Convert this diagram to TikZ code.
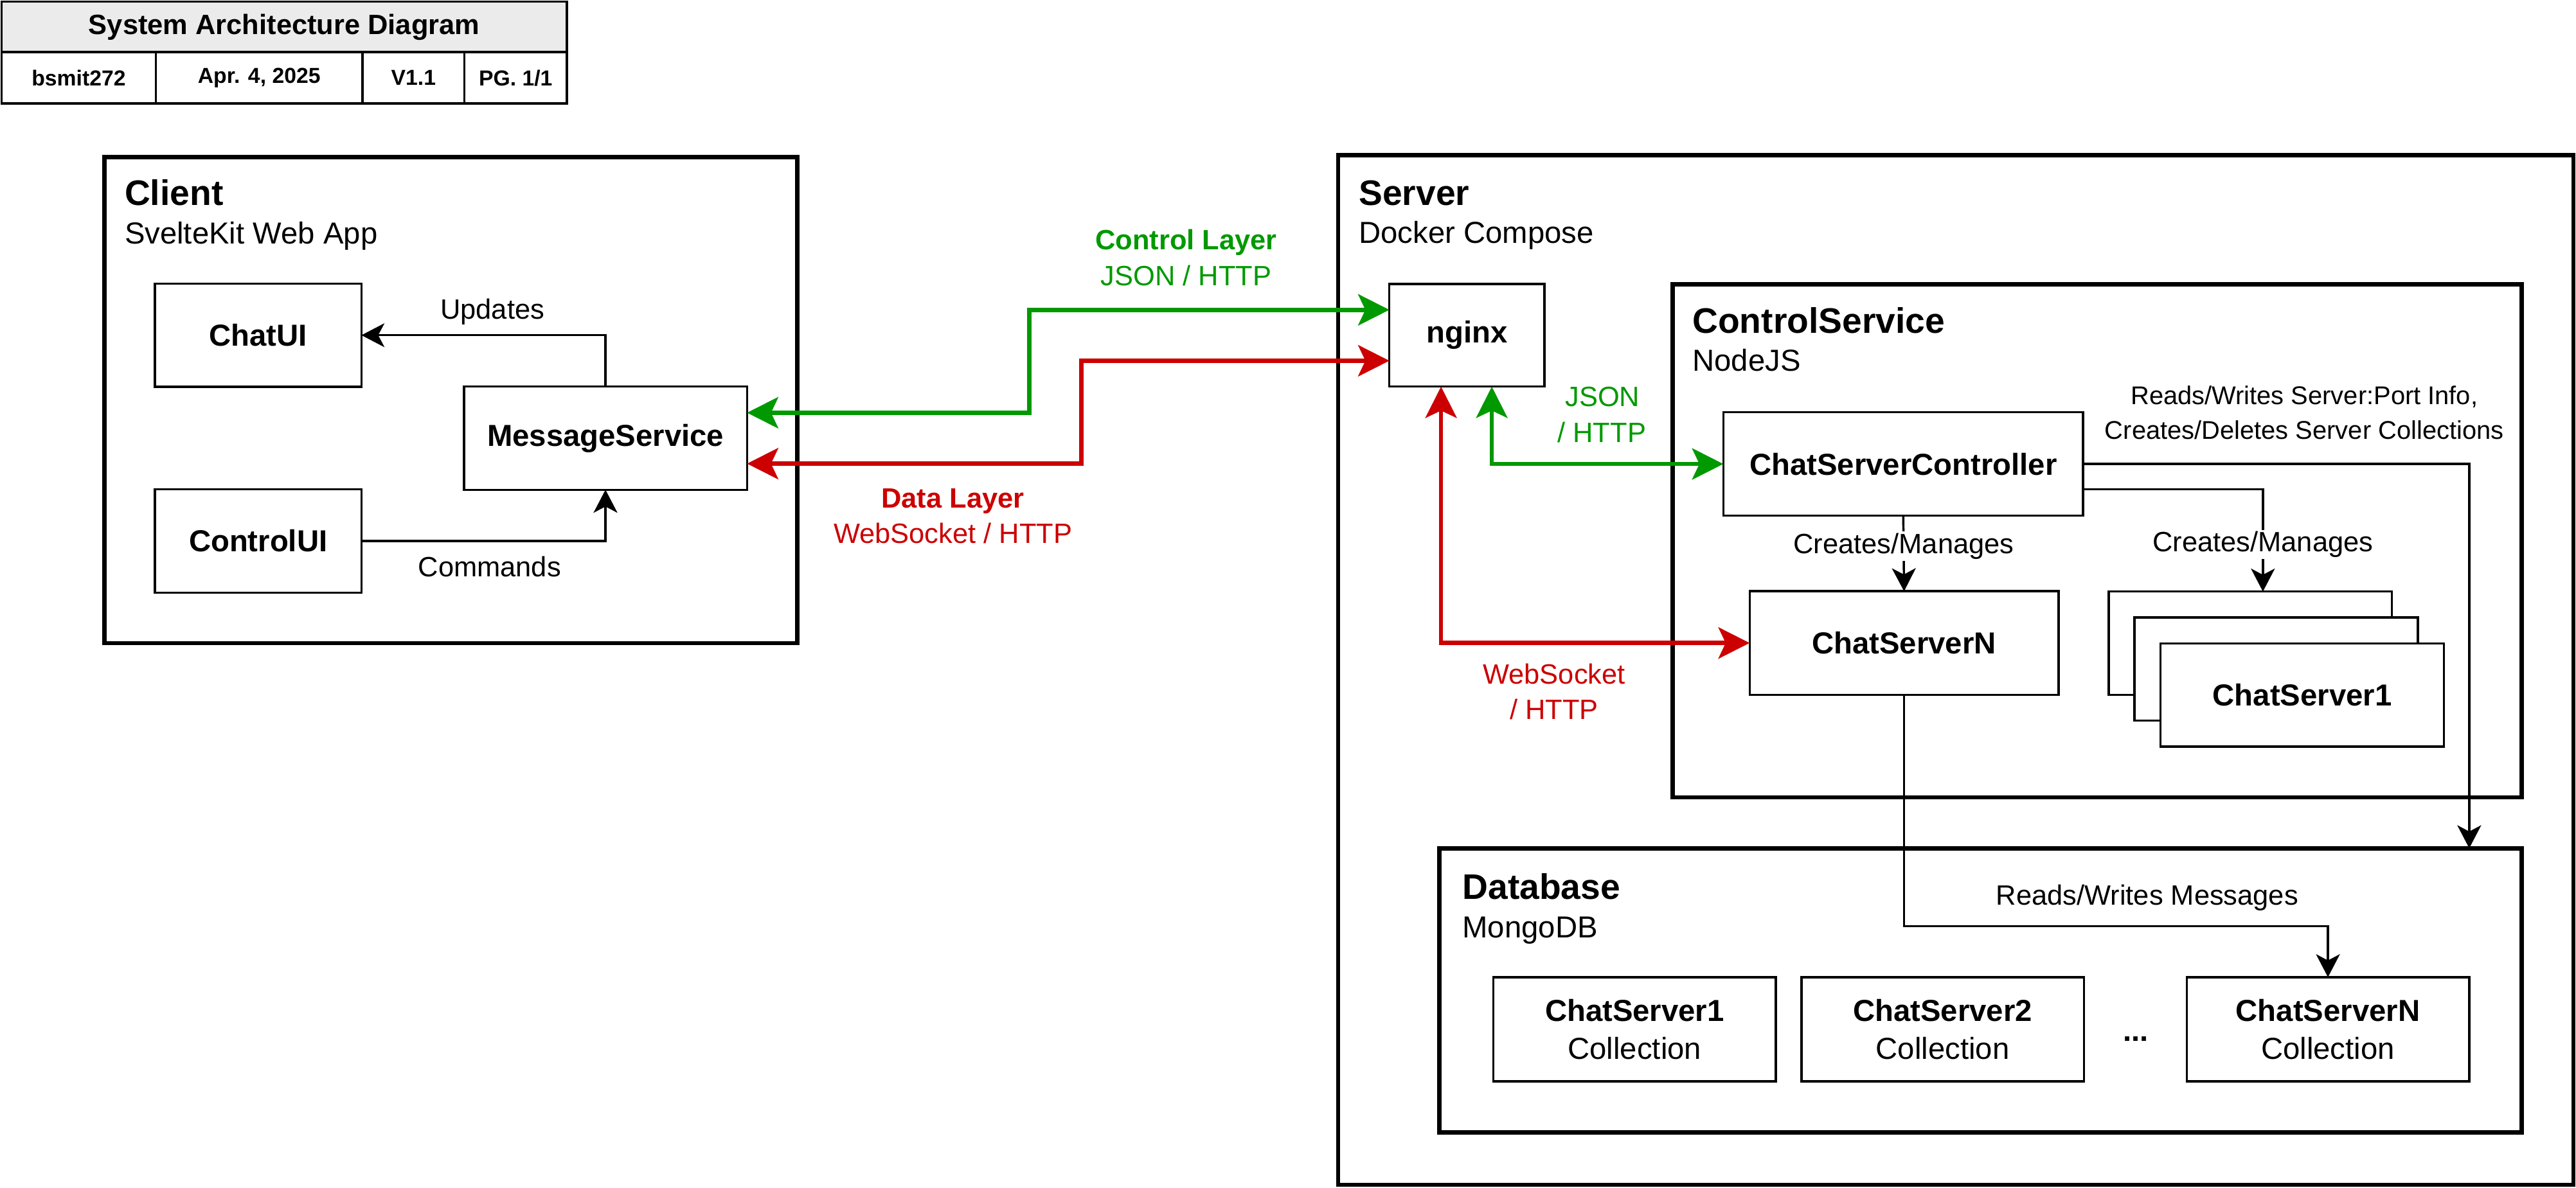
\documentclass[tikz,border=0pt]{standalone}
\usepackage{fontspec}
\setmainfont{Liberation Sans}
\usepackage{tikz}
\usetikzlibrary{arrows.meta}
\definecolor{ctrlgreen}{RGB}{0,153,0}
\definecolor{datared}{RGB}{204,0,0}
\definecolor{hdrgrey}{RGB}{235,235,235}
\newcommand{\titlefnt}{\fontsize{21.6}{26}\selectfont\bfseries}
\newcommand{\subfnt}{\fontsize{18.5}{22}\selectfont}
\newcommand{\boxfnt}{\fontsize{18.5}{23}\selectfont}
\newcommand{\lblfnt}{\fontsize{17}{20}\selectfont}
\newcommand{\notefnt}{\fontsize{15.6}{21.4}\selectfont}
\newcommand{\hdrfnt}{\fontsize{17}{20}\selectfont\bfseries}
\newcommand{\cellfnt}{\fontsize{13.2}{16}\selectfont\bfseries}

\begin{document}
\begin{tikzpicture}[x=1pt,y=-1pt,>={Stealth[length=14pt,width=14.5pt,inset=3.8pt]},
  box/.style={draw,fill=white,line width=1.35pt,inner sep=0pt,outer sep=0pt,align=center,font=\boxfnt},
  group/.style={draw,line width=2.7pt,inner sep=0pt,outer sep=0pt},
  cell/.style={draw,line width=1.4pt,inner sep=0pt,outer sep=0pt,font=\cellfnt},
  grouptitle/.style={anchor=base west,inner sep=0pt,font=\titlefnt},
  groupsub/.style={anchor=base west,inner sep=0pt,font=\subfnt},
  lbl/.style={inner sep=0pt,font=\lblfnt},
  link/.style={->,line width=1.35pt},
  wire/.style={<->,>={Stealth[length=19pt,width=19pt,inset=4.4pt]},line width=2.6pt}]
  \useasboundingbox (0,0) rectangle (1568,723);

  \node[cell,fill=hdrgrey,minimum width=344pt,minimum height=30.8pt,font=\hdrfnt] (tbhead) at (173,16.4) {System Architecture Diagram};
  \node[cell,minimum width=93.8pt,minimum height=31.2pt] (tbauthor) at (47.9,47.4) {bsmit272};
  \node[cell,minimum width=125.9pt,minimum height=31.2pt] (tbdate) at (157.75,47.4) {Apr. 4, 2025};
  \node[cell,minimum width=62pt,minimum height=31.2pt] (tbver) at (251.7,47.4) {V1.1};
  \node[cell,minimum width=62.3pt,minimum height=31.2pt] (tbpage) at (313.85,47.4) {PG. 1/1};

  \node[group,minimum width=421.7pt,minimum height=295.8pt] (client) at (274.55,243.7) {};
  \node[grouptitle] (clienttitle) at (75.7,125) {Client};
  \node[groupsub] (clientsub) at (75.7,148.3) {SvelteKit Web App};
  \node[box,minimum width=125.7pt,minimum height=62.8pt] (chatui) at (157.15,204.1) {\textbf{ChatUI}};
  \node[box,minimum width=125.7pt,minimum height=63.1pt] (controlui) at (157.15,329.35) {\textbf{ControlUI}};
  \node[box,minimum width=172.3pt,minimum height=62.8pt] (msgsvc) at (368.55,266.8) {\textbf{MessageService}};

  \node[group,minimum width=751.9pt,minimum height=626.9pt] (server) at (1190.45,407.95) {};
  \node[grouptitle] (servertitle) at (827,124.8) {Server};
  \node[groupsub] (serversub) at (827,148) {Docker Compose};
  \node[box,minimum width=94.3pt,minimum height=62.5pt] (nginx) at (892.85,204.15) {\textbf{nginx}};

  \node[group,minimum width=517pt,minimum height=312.4pt] (ctrlsvc) at (1276.5,329.3) {};
  \node[grouptitle] (ctrltitle) at (1030,203) {ControlService};
  \node[groupsub] (ctrlsub) at (1030,225.8) {NodeJS};
  \node[box,minimum width=219pt,minimum height=63pt] (csc) at (1158.5,282.5) {\textbf{ChatServerController}};
  \node[box,minimum width=188pt,minimum height=63pt] (csn) at (1159,391.5) {\textbf{ChatServerN}};
  \node[box,minimum width=172.5pt,minimum height=62.8pt] (stack3) at (1369.75,391.6) {};
  \node[box,minimum width=172.5pt,minimum height=62.8pt] (stack2) at (1385.55,407.4) {};
  \node[box,minimum width=172.5pt,minimum height=62.8pt] (stack1) at (1401.35,423.2) {\textbf{ChatServer1}};

  \node[group,minimum width=659pt,minimum height=173pt] (db) at (1205.5,603) {};
  \node[grouptitle] (dbtitle) at (890,547.6) {Database};
  \node[groupsub] (dbsub) at (890,570.8) {MongoDB};
  \node[box,minimum width=172pt,minimum height=63.4pt] (coll1) at (995,626.7) {\textbf{ChatServer1}\\Collection};
  \node[box,minimum width=172pt,minimum height=63.4pt] (coll2) at (1182.5,626.7) {\textbf{ChatServer2}\\Collection};
  \node[box,minimum width=172pt,minimum height=63.4pt] (colln) at (1417,626.7) {\textbf{ChatServerN}\\Collection};
  \node[lbl,font=\boxfnt\bfseries,anchor=base] (colldots) at (1300,634) {...};

  \draw[link] (msgsvc.north) |- (chatui.east);
  \node[lbl,anchor=base] (updlbl) at (299.7,194.3) {Updates};
  \draw[link] (controlui.east) -| (msgsvc.south);
  \node[lbl,anchor=base] (cmdlbl) at (298,351.1) {Commands};

  \coordinate (ctrlbend) at (626.6,220);
  \coordinate (databend) at (658.2,250);
  \draw[wire,ctrlgreen] ([yshift=15.5pt]msgsvc.east) -| (ctrlbend) |- ([yshift=15.5pt]nginx.west);
  \draw[wire,datared] ([yshift=-15.5pt]msgsvc.east) -| (databend) |- ([yshift=-15.5pt]nginx.west);
  \node[lbl,ctrlgreen,font=\lblfnt\bfseries,anchor=base] (ctrllayer) at (722,152.1) {Control Layer};
  \node[lbl,ctrlgreen,anchor=base] (ctrlproto) at (722,173.7) {JSON / HTTP};
  \node[lbl,datared,font=\lblfnt\bfseries,anchor=base] (datalayer) at (580,309.1) {Data Layer};
  \node[lbl,datared,anchor=base] (dataproto) at (580,330.7) {WebSocket / HTTP};

  \draw[wire,ctrlgreen] ([xshift=15.2pt]nginx.south) |- (csc.west);
  \draw[wire,datared] ([xshift=-15.7pt]nginx.south) |- (csn.west);
  \node[lbl,ctrlgreen,anchor=base] (jsonlbl) at (975.4,247.3) {JSON};
  \node[lbl,ctrlgreen,anchor=base] (jsonhttp) at (975,269.4) {/ HTTP};
  \node[lbl,datared,anchor=base] (wslbl) at (946,416.5) {WebSocket};
  \node[lbl,datared,anchor=base] (wshttp) at (946,437.9) {/ HTTP};

  \draw[link] (csc.south) -- node[lbl,fill=white,inner sep=1pt,anchor=base,pos=0.5] (mgr1) {Creates/Manages} (csn.north);
  \draw[link] ([yshift=-15.5pt]csc.east) -| node[lbl,fill=white,inner sep=1pt,anchor=base,pos=0.805] (mgr2) {Creates/Manages} ([xshift=7.65pt]stack3.north);
  \draw[link] (csc.east) -| ([xshift=297.5pt]db.north);
  \node[lbl,font=\notefnt,align=center] (portlbl) at (1402.6,251.3) {Reads/Writes Server:Port Info,\\Creates/Deletes Server Collections};

  \coordinate (msgbend) at (1300,564);
  \draw[link] (csn.south) |- (msgbend) -| (colln.north);
  \node[lbl,anchor=base] (msglbl) at (1307,551.1) {Reads/Writes Messages};
\end{tikzpicture}
\end{document}
